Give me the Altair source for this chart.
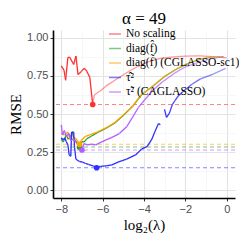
import altair as alt
import numpy as np
import pandas as pd

series_names = ["No scaling", "diag(f̂)", "diag(f̃) (CGLASSO-sc1)", "τ̂²", "τ̃² (CAGLASSO)"]
series_colors = ["#FF3030", "#2CA02C", "#FFA500", "#2F2FFF", "#B35CFF"]

red_x = [-8.0, -7.87, -7.79, -7.68, -7.59, -7.40, -7.29, -7.19, -7.04, -6.90, -6.79, -6.62, -6.48,
         -6.40, -6.1, -5.83, -5.41, -4.9, -4.42, -3.84, -3.27, -2.71, -1.99, -1.27, -0.71, 0.0]
red_y = [0.815, 0.787, 0.721, 0.871, 0.871, 0.824, 0.880, 0.758, 0.777, 0.799, 0.787, 0.740, 0.562,
         0.624, 0.652, 0.684, 0.721, 0.765, 0.803, 0.840, 0.862, 0.873, 0.879, 0.880, 0.876, 0.868]

green_x = [-8.0, -7.90, -7.76, -7.66, -7.54, -7.47, -7.40, -7.33, -7.19, -7.12, -7.00, -6.90, -6.76,
           -6.55, -6.26, -5.83, -5.41, -4.98, -4.55, -4.12, -3.56, -2.98, -2.41, -1.85, -1.27, -0.71, -0.15]
green_y = [0.335, 0.316, 0.363, 0.335, 0.354, 0.382, 0.344, 0.326, 0.298, 0.284, 0.320, 0.316, 0.339,
           0.354, 0.378, 0.407, 0.441, 0.494, 0.550, 0.626, 0.683, 0.748, 0.795, 0.832, 0.860, 0.872, 0.876]

orange_x = [-8.0, -7.85, -7.68, -7.57, -7.46, -7.33, -7.19, -7.12, -7.04, -6.83, -6.62, -6.26, -5.83,
            -5.41, -4.98, -4.55, -4.12, -3.56, -2.98, -2.41, -1.85, -1.27, -0.71, -0.15]
orange_y = [0.372, 0.363, 0.382, 0.331, 0.335, 0.344, 0.320, 0.302, 0.326, 0.354, 0.363, 0.382, 0.410,
            0.444, 0.496, 0.552, 0.628, 0.684, 0.749, 0.796, 0.833, 0.861, 0.872, 0.876]

blue_x = [-8.0, -7.90, -7.83, -7.76, -7.68, -7.62, -7.54, -7.50, -7.40, -7.36, -7.29, -7.12, -6.97,
          -6.83, -6.69, -6.47, -6.29, -6.12, -5.83, -5.55, -5.26, -4.84, -4.41, -4.12, -3.84, -3.62,
          -3.48, -3.30, -3.21, -3.11,
          -3.01, -2.91, -2.77, -2.63, -2.49, -2.34, -2.13, -1.70, -1.27, -0.71, -0.06]
blue_y = [0.344, 0.331, 0.344, 0.320, 0.298, 0.232, 0.223, 0.382, 0.382, 0.281, 0.204, 0.189, 0.185,
          0.176, 0.170, 0.161, 0.148, 0.157, 0.161, 0.167, 0.185, 0.204, 0.232, 0.270, 0.288, 0.335,
          0.382, 0.438, 0.429, None,
          0.530, 0.478, 0.506, 0.562, 0.590, 0.618, 0.646, 0.693, 0.730, 0.758, 0.799]

purple_x = [-8.0, -7.94, -7.85, -7.76, -7.62, -7.54, -7.40, -7.26, -7.12, -7.00, -6.90, -6.76, -6.55,
            -6.33, -6.12, -5.83, -5.55, -5.19, -4.84, -4.55, -4.27, -3.98, -3.56, -3.13, -2.56, -1.99,
            -1.27, -0.71, -0.15]
purple_y = [0.429, 0.363, 0.392, 0.354, 0.372, 0.326, 0.335, 0.316, 0.298, 0.264, 0.307, 0.298, 0.302,
            0.298, 0.313, 0.331, 0.347, 0.372, 0.416, 0.480, 0.543, 0.590, 0.657, 0.708, 0.764, 0.809,
            0.843, 0.862, 0.876]

all_x = [red_x, green_x, orange_x, blue_x, purple_x]
all_y = [red_y, green_y, orange_y, blue_y, purple_y]

# fading style of the later part of each curve
fade_start = [None, -5.0, -5.0, -3.05, -5.0]

seg_rows, min_rows = [], []
for k, (name, xs, ys) in enumerate(zip(series_names, all_x, all_y)):
    valid = [(x, y) for x, y in zip(xs, ys) if y is not None]
    mx, my = min(valid, key=lambda p: p[1])
    min_rows.append({"series": name, "x": mx, "y": my})
    for i in range(len(xs) - 1):
        if ys[i] is None or ys[i + 1] is None:
            continue
        xm = 0.5 * (xs[i] + xs[i + 1])
        if fade_start[k] is None:
            op = 1.0 if xs[i] < mx else 0.5
        else:
            s = fade_start[k]
            op = 1.0 if xm <= s else 1.0 - 0.6 * (xm - s) / (0.0 - s)
        seg_rows.append({"series": name, "x": xs[i], "y": ys[i], "x2": xs[i + 1], "y2": ys[i + 1],
                         "op": op, "order": k})

segs = pd.DataFrame(seg_rows)
mins = pd.DataFrame(min_rows)

xscale = alt.Scale(domain=[-8.4, 0.4], nice=False, zero=False)
yscale = alt.Scale(domain=[-0.05, 1.05], nice=False, zero=False)
cscale = alt.Scale(domain=series_names, range=series_colors)

minor_x = "datum.value % 2 !== 0"
minor_y = "abs(datum.value * 4 - round(datum.value * 4)) > 0.01"

xaxis = alt.Axis(
    values=[-8, -7, -6, -5, -4, -3, -2, -1, 0], title="log₂(λ)", format="d",
    labelExpr="datum.value % 2 === 0 ? datum.label : ''",
    gridColor={"condition": {"test": minor_x, "value": "#F2F2F2"}, "value": "#E3E3E3"},
    gridWidth={"condition": {"test": minor_x, "value": 0.6}, "value": 1.1},
    tickOpacity={"condition": {"test": minor_x, "value": 0}, "value": 1},
)
yaxis = alt.Axis(
    values=[0, 0.125, 0.25, 0.375, 0.5, 0.625, 0.75, 0.875, 1.0], title="RMSE", format=".2f",
    labelExpr="abs(datum.value * 4 - round(datum.value * 4)) > 0.01 ? '' : datum.label",
    gridColor={"condition": {"test": minor_y, "value": "#F2F2F2"}, "value": "#E3E3E3"},
    gridWidth={"condition": {"test": minor_y, "value": 0.6}, "value": 1.1},
    tickOpacity={"condition": {"test": minor_y, "value": 0}, "value": 1},
)

legend = alt.Legend(
    title=None, orient="none", legendX=55, legendY=-3,
    symbolType="stroke", symbolStrokeWidth=1.5, symbolSize=144,
    labelFont="Liberation Serif", labelFontSize=11.5, labelColor="black",
    rowPadding=1.5, labelOffset=4, labelLimit=300,
)
color = alt.Color("series:N", scale=cscale, legend=legend)

hlines = alt.Chart(mins).mark_rule(strokeDash=[4, 3], strokeWidth=1.1, opacity=0.6).encode(
    y=alt.Y("y:Q", scale=yscale, axis=yaxis),
    color=color,
)

lines = alt.Chart(segs).mark_rule(strokeWidth=1.3, strokeCap="butt").encode(
    x=alt.X("x:Q", scale=xscale, axis=xaxis),
    y=alt.Y("y:Q", scale=yscale, axis=yaxis),
    x2="x2:Q",
    y2="y2:Q",
    color=color,
    opacity=alt.Opacity("op:Q", scale=None, legend=None),
    order="order:Q",
)

points = alt.Chart(mins).mark_circle(size=32, opacity=1).encode(
    x=alt.X("x:Q", scale=xscale, axis=xaxis),
    y=alt.Y("y:Q", scale=yscale, axis=yaxis),
    color=color,
)

chart = alt.layer(hlines, lines, points).properties(
    width=231, height=226,
    autosize=alt.AutoSizeParams(type="fit", contains="padding"),
    padding={"left": 0, "top": 2, "right": 3, "bottom": 2},
    title="α = 49",
).configure_view(stroke=None).configure_title(
    font="Liberation Serif", fontSize=17, fontWeight="normal", color="black", offset=2, anchor="middle",
).configure_axis(
    domainColor="black", domainWidth=1.6, tickColor="#333333", tickSize=3, tickWidth=1,
    labelFont="Liberation Sans", labelFontSize=11, labelColor="#4D4D4D", labelPadding=2,
    titleFont="Liberation Serif", titleFontSize=15, titleFontWeight="normal", titleColor="black",
    titlePadding=3,
)

chart.save("out.html", embed_options={"renderer": "svg", "actions": False})
